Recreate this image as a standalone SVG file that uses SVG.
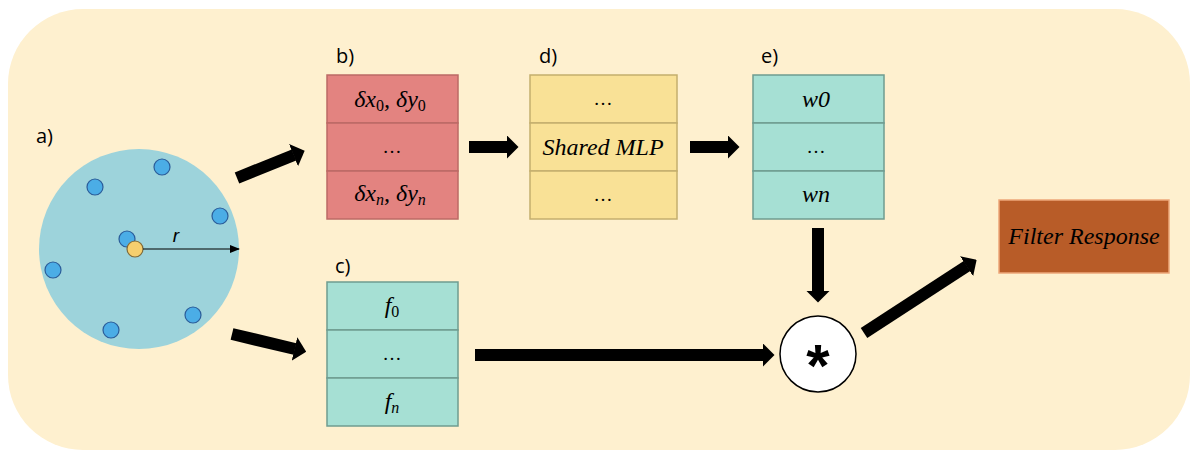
<svg xmlns="http://www.w3.org/2000/svg" width="1192" height="452" viewBox="0 0 1192 452">
<style>
.lbl{font-family:"Open Sans","Liberation Sans",sans-serif;font-size:20px;fill:#000}
.m{font-family:"Liberation Serif","DejaVu Serif",serif;font-style:italic;font-size:24px;fill:#000;text-anchor:middle}
.dots{font-family:"Liberation Serif",serif;font-size:19px;fill:#000;text-anchor:middle}
.pt{fill:#4BADE6;stroke:#2B5C99;stroke-width:1.2}
.red{fill:#E38380;stroke:#BC6A66;stroke-width:1.5}
.yel{fill:#F9E196;stroke:#C4AE6E;stroke-width:1.5}
.grn{fill:#A6E0D4;stroke:#6F9C90;stroke-width:1.5}
.arr{stroke:#000;stroke-width:12;fill:none;marker-end:url(#head)}
</style>
<defs>
<marker id="head" viewBox="0 0 12 24" markerWidth="12" markerHeight="24" refX="0.5" refY="12" orient="auto" markerUnits="userSpaceOnUse">
<path d="M0,0 L12,12 L0,24 Z" fill="#000"/>
</marker>
<marker id="thin" viewBox="0 0 10 8" markerWidth="10" markerHeight="8" refX="9" refY="4" orient="auto" markerUnits="userSpaceOnUse">
<path d="M0,0 L10,4 L0,8 Z" fill="#000"/>
</marker>
</defs>
<rect x="0" y="0" width="1192" height="452" fill="#fff"/>
<rect id="background" x="8" y="9" width="1182" height="441" rx="75" ry="75" fill="#FEF0CF"/>

<g id="a">
<text class="lbl" x="36" y="143">a)</text>
<circle cx="139" cy="249" r="100" fill="#9DD3DB"/>
<circle class="pt" cx="162" cy="167" r="8"/>
<circle class="pt" cx="95" cy="187" r="8"/>
<circle class="pt" cx="220" cy="216" r="8"/>
<circle class="pt" cx="127" cy="239" r="8"/>
<circle class="pt" cx="53" cy="270" r="8"/>
<circle class="pt" cx="193" cy="315" r="8"/>
<circle class="pt" cx="111" cy="330" r="8"/>
<circle cx="135" cy="249" r="8" fill="#F6CF6E" stroke="#7E6A3A" stroke-width="1.2"/>
<line x1="143" y1="249" x2="239" y2="249" stroke="#000" stroke-width="1.2" marker-end="url(#thin)"/>
<text x="176" y="242" font-family="Liberation Sans,sans-serif" font-style="italic" font-size="19" text-anchor="middle">r</text>
</g>

<g id="b">
<text class="lbl" x="336" y="63">b)</text>
<rect class="red" x="327" y="75" width="131" height="48"/>
<rect class="red" x="327" y="123" width="131" height="48"/>
<rect class="red" x="327" y="171" width="131" height="48"/>
<text class="m" x="390" y="107">δx<tspan font-size="16" dy="4" font-style="normal">0</tspan><tspan dy="-4">, δy</tspan><tspan font-size="16" dy="4" font-style="normal">0</tspan></text>
<text class="dots" x="392" y="153">…</text>
<text class="m" x="390" y="201">δx<tspan font-size="16" dy="4">n</tspan><tspan dy="-4">, δy</tspan><tspan font-size="16" dy="4">n</tspan></text>
</g>

<g id="d">
<text class="lbl" x="539" y="63">d)</text>
<rect class="yel" x="530" y="75" width="147" height="48"/>
<rect class="yel" x="530" y="123" width="147" height="48"/>
<rect class="yel" x="530" y="171" width="147" height="48"/>
<text class="dots" x="603" y="105">…</text>
<text class="m" x="603" y="155" font-size="22">Shared MLP</text>
<text class="dots" x="603" y="201">…</text>
</g>

<g id="e">
<text class="lbl" x="761" y="63">e)</text>
<rect class="grn" x="753" y="75" width="131" height="48"/>
<rect class="grn" x="753" y="123" width="131" height="48"/>
<rect class="grn" x="753" y="171" width="131" height="48"/>
<text class="m" x="816" y="107">w0</text>
<text class="dots" x="816" y="153">…</text>
<text class="m" x="816" y="202">wn</text>
</g>

<g id="c">
<text class="lbl" x="335" y="273">c)</text>
<rect class="grn" x="327" y="282" width="131" height="48"/>
<rect class="grn" x="327" y="330" width="131" height="48"/>
<rect class="grn" x="327" y="378" width="131" height="48"/>
<text class="m" x="392" y="313">f<tspan font-size="16" dy="4" font-style="normal">0</tspan></text>
<text class="dots" x="392" y="360">…</text>
<text class="m" x="392" y="409">f<tspan font-size="16" dy="4">n</tspan></text>
</g>

<g id="conv">
<circle cx="818" cy="354" r="38" fill="#fff" stroke="#000" stroke-width="1.5"/>
<text x="818" y="386" font-family="Liberation Sans,sans-serif" font-weight="bold" font-size="60" text-anchor="middle">*</text>
</g>

<g id="filter">
<rect x="999" y="200" width="170" height="73" fill="#B85C28" stroke="#EDA77A" stroke-width="1.5"/>
<text class="m" x="1084" y="244" font-size="20">Filter Response</text>
</g>

<g id="connectors">
<line class="arr" x1="237" y1="178" x2="294" y2="155"/>
<line class="arr" x1="232" y1="334" x2="295" y2="349"/>
<line class="arr" x1="469" y1="147" x2="507" y2="147"/>
<line class="arr" x1="690" y1="147" x2="728" y2="147"/>
<line class="arr" x1="818" y1="228" x2="818" y2="291"/>
<line class="arr" x1="475" y1="355" x2="763" y2="355"/>
<line class="arr" x1="864" y1="333" x2="967" y2="266"/>
</g>
</svg>
